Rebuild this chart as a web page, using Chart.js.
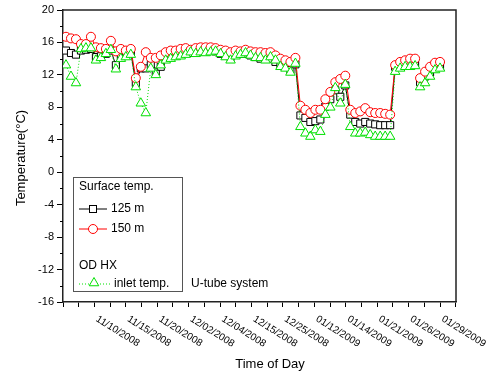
<!DOCTYPE html>
<html>
<head>
<meta charset="utf-8">
<script src="https://cdn.jsdelivr.net/npm/chart.js@4.4.0/dist/chart.umd.min.js"></script>
<style>
  html, body { margin: 0; padding: 0; background: #fff; }
  #wrap { width: 491px; height: 376px; }
</style>
</head>
<body>
<div id="wrap"><canvas id="chart" width="491" height="376"></canvas></div>
<script>
// date labels shown under every second tick
const dateLabels = ["11/10/2008", "11/15/2008", "11/20/2008", "12/02/2008", "12/04/2008", "12/15/2008",
    "12/25/2008", "01/12/2009", "01/14/2009", "01/21/2009", "01/26/2009", "01/29/2009"];

// surface temp. at 150 m
const temp150 = [16.7, 16.5, 16.4, 15.8, 15.8, 16.7, 15.4, 15.3, 15.2, 16.2,
    14.9, 15.2, 15.0, 15.2, 11.6, 13.0, 14.8, 14.1, 14.1, 14.4,
    14.8, 15.0, 15.0, 15.2, 15.3, 15.1, 15.3, 15.4, 15.4, 15.4,
    15.3, 15.1, 15.0, 14.8, 15.0, 14.9, 15.1, 14.9, 14.8, 14.8,
    14.7, 14.8, 14.4, 14.0, 13.8, 13.6, 14.1, 8.2, 7.7, 7.3,
    7.7, 7.7, 9.0, 9.9, 11.1, 11.5, 11.9, 7.7, 7.3, 7.5,
    7.9, 7.4, 7.3, 7.3, 7.2, 7.1, 13.2, 13.6, 13.8, 14.0,
    14.0, 11.6, 12.4, 13.0, 13.5, 13.6];

// surface temp. at 125 m
const temp125 = [15.0, 14.7, 14.5, 15.0, 15.1, 15.2, 14.2, 14.3, 14.6, 15.0,
    13.2, 14.3, 14.5, 14.8, 11.0, 12.8, 12.8, 13.2, 12.4, 13.0,
    14.0, 14.3, 14.4, 14.6, 14.8, 14.7, 14.8, 14.9, 14.9, 15.0,
    14.9, 14.6, 14.4, 14.2, 14.5, 14.6, 14.6, 14.4, 14.2, 14.0,
    14.0, 14.0, 13.6, 13.2, 13.0, 12.6, 13.3, 7.0, 6.7, 6.2,
    6.3, 6.5, 8.1, 9.0, 10.1, 9.3, 10.7, 7.1, 6.2, 6.0,
    6.2, 6.0, 5.9, 5.8, 5.8, 5.8, 13.0, 13.2, 13.3, 13.3,
    13.3, 11.1, 11.8, 12.3, 12.8, 13.0];

// OD HX inlet temp.
const inletTemp = [13.2, 11.8, 11.0, 15.2, 15.3, 15.3, 13.8, 14.1, 14.6, 15.1,
    12.7, 14.0, 14.2, 14.5, 10.5, 8.5, 7.3, 12.8, 12.0, 13.2,
    13.8, 14.0, 14.2, 14.3, 14.5, 14.8, 14.6, 14.8, 14.7, 14.8,
    14.9, 14.6, 14.2, 13.8, 14.3, 14.5, 14.7, 14.4, 14.1, 14.1,
    13.8, 14.2, 13.8, 13.0, 12.8, 12.3, 13.4, 5.6, 4.8, 4.4,
    5.2, 5.0, 7.1, 8.0, 10.4, 8.5, 10.8, 5.6, 4.8, 4.8,
    4.9, 4.6, 4.4, 4.4, 4.4, 4.4, 12.4, 12.8, 13.0, 13.0,
    13.1, 10.5, 11.0, 11.8, 12.6, 12.8];

// no line drawn after this sample
const breakAfter = [70];

const FONT = "'Liberation Sans', Arial, sans-serif";
const X_MIN = -0.6, X_MAX = 78.2, TICK_STEP = 3.15;

function pts(arr) {
    return arr.map((v, i) => ({ x: i, y: v }));
}

const gapSegment = {
    borderColor: c => breakAfter.includes(c.p0.parsed.x) ? 'rgba(0,0,0,0)' : undefined
};

// marker helpers for the legend
function square(ctx, x, y, s) {
    ctx.fillStyle = '#fff';
    ctx.fillRect(x - s, y - s, 2 * s, 2 * s);
    ctx.strokeRect(x - s, y - s, 2 * s, 2 * s);
}
function circle(ctx, x, y, r) {
    ctx.beginPath();
    ctx.arc(x, y, r, 0, Math.PI * 2);
    ctx.fillStyle = '#fff';
    ctx.fill();
    ctx.stroke();
}
function triangle(ctx, x, y, r) {
    ctx.beginPath();
    ctx.moveTo(x, y - r);
    ctx.lineTo(x + r * 0.866, y + r * 0.5);
    ctx.lineTo(x - r * 0.866, y + r * 0.5);
    ctx.closePath();
    ctx.fillStyle = '#fff';
    ctx.fill();
    ctx.stroke();
}

const extras = {
    id: 'extras',
    afterDraw(chart) {
        const ctx = chart.ctx;
        const a = chart.chartArea;
        const xs = chart.scales.x, ys = chart.scales.y;
        ctx.save();

        // frame top + right
        ctx.strokeStyle = '#222';
        ctx.lineWidth = 1.5;
        ctx.beginPath();
        ctx.moveTo(a.left, a.top);
        ctx.lineTo(a.right, a.top);
        ctx.lineTo(a.right, a.bottom);
        ctx.stroke();

        // minor y ticks
        ctx.lineWidth = 1;
        ctx.strokeStyle = '#000';
        for (let v = -14; v < 20; v += 4) {
            const y = Math.round(ys.getPixelForValue(v)) + 0.5;
            ctx.beginPath();
            ctx.moveTo(a.left - 3, y);
            ctx.lineTo(a.left, y);
            ctx.stroke();
        }

        // slanted date labels
        ctx.fillStyle = '#000';
        ctx.font = '10px ' + FONT;
        ctx.textAlign = 'left';
        ctx.textBaseline = 'top';
        dateLabels.forEach((lab, k) => {
            const x = xs.getPixelForValue(X_MIN + TICK_STEP * 2 * (k + 1));
            ctx.save();
            ctx.translate(x + 5, a.bottom + 12);
            ctx.rotate(32 * Math.PI / 180);
            ctx.fillText(lab, 0, 0);
            ctx.restore();
        });

        // axis titles
        ctx.font = '13px ' + FONT;
        ctx.textAlign = 'center';
        ctx.textBaseline = 'middle';
        ctx.fillText('Time of Day', 270, 364);
        ctx.save();
        ctx.translate(21, 158);
        ctx.rotate(-Math.PI / 2);
        ctx.fillText('Temperature(\u00B0C)', 0, 0);
        ctx.restore();

        // legend box
        ctx.strokeStyle = '#555';
        ctx.lineWidth = 1;
        ctx.strokeRect(73.5, 177.5, 109, 114);
        ctx.font = '12px ' + FONT;
        ctx.textAlign = 'left';
        ctx.fillStyle = '#000';
        ctx.fillText('Surface temp.', 79, 187);

        ctx.strokeStyle = '#000';
        ctx.beginPath(); ctx.moveTo(79, 209); ctx.lineTo(107, 209); ctx.stroke();
        square(ctx, 93, 209, 3.5);
        ctx.fillStyle = '#000';
        ctx.fillText('125 m', 111, 209);

        ctx.strokeStyle = '#ff0000';
        ctx.beginPath(); ctx.moveTo(79, 229); ctx.lineTo(107, 229); ctx.stroke();
        circle(ctx, 93, 229, 4.5);
        ctx.fillStyle = '#000';
        ctx.fillText('150 m', 111, 229);

        ctx.fillText('OD HX', 79, 266);
        ctx.strokeStyle = '#00e000';
        ctx.setLineDash([1, 2]);
        ctx.beginPath(); ctx.moveTo(79, 284); ctx.lineTo(110, 284); ctx.stroke();
        ctx.setLineDash([]);
        triangle(ctx, 94, 283, 5.5);
        ctx.fillStyle = '#000';
        ctx.fillText('inlet temp.', 114, 284);
        ctx.fillText('U-tube system', 191, 284);

        ctx.restore();
    }
};

const ctx = document.getElementById('chart').getContext('2d');
new Chart(ctx, {
    type: 'line',
    data: {
        datasets: [
            {
                label: '125 m',
                data: pts(temp125),
                borderColor: '#000',
                borderWidth: 1,
                pointStyle: 'rect',
                pointRadius: 5,
                pointBorderColor: '#000',
                pointBackgroundColor: '#fff',
                pointBorderWidth: 1,
                segment: gapSegment,
                order: 2
            },
            {
                label: '150 m',
                data: pts(temp150),
                borderColor: '#ff0000',
                borderWidth: 1,
                pointStyle: 'circle',
                pointRadius: 4.5,
                pointBorderColor: '#ff0000',
                pointBackgroundColor: '#fff',
                pointBorderWidth: 1,
                segment: gapSegment,
                order: 1
            },
            {
                label: 'inlet temp.',
                data: pts(inletTemp),
                borderColor: '#00e000',
                borderWidth: 1,
                borderDash: [1, 2],
                pointStyle: 'triangle',
                pointRadius: 5.5,
                pointBorderColor: '#00e000',
                pointBackgroundColor: '#fff',
                pointBorderWidth: 1,
                segment: gapSegment,
                order: 0
            }
        ]
    },
    options: {
        responsive: false,
        animation: false,
        layout: { padding: { top: 10, right: 35, left: 0, bottom: 0 } },
        plugins: {
            legend: { display: false },
            tooltip: { enabled: false }
        },
        scales: {
            x: {
                type: 'linear',
                min: X_MIN,
                max: X_MAX,
                afterBuildTicks: s => {
                    const t = [];
                    for (let k = 0; k <= 25; k++) t.push({ value: X_MIN + TICK_STEP * k });
                    s.ticks = t;
                },
                afterFit: s => { s.height = 74; },
                ticks: { callback: () => '', padding: 0 },
                grid: { drawOnChartArea: false, tickLength: 5, color: '#000' },
                border: { color: '#222', width: 1.5 }
            },
            y: {
                min: -16,
                max: 20,
                afterFit: s => { s.width = 63; },
                ticks: {
                    stepSize: 4,
                    color: '#000',
                    padding: 3,
                    font: { family: FONT, size: 11 }
                },
                grid: { drawOnChartArea: false, tickLength: 6, color: '#000' },
                border: { color: '#222', width: 1.5 }
            }
        }
    },
    plugins: [extras]
});
</script>
</body>
</html>
